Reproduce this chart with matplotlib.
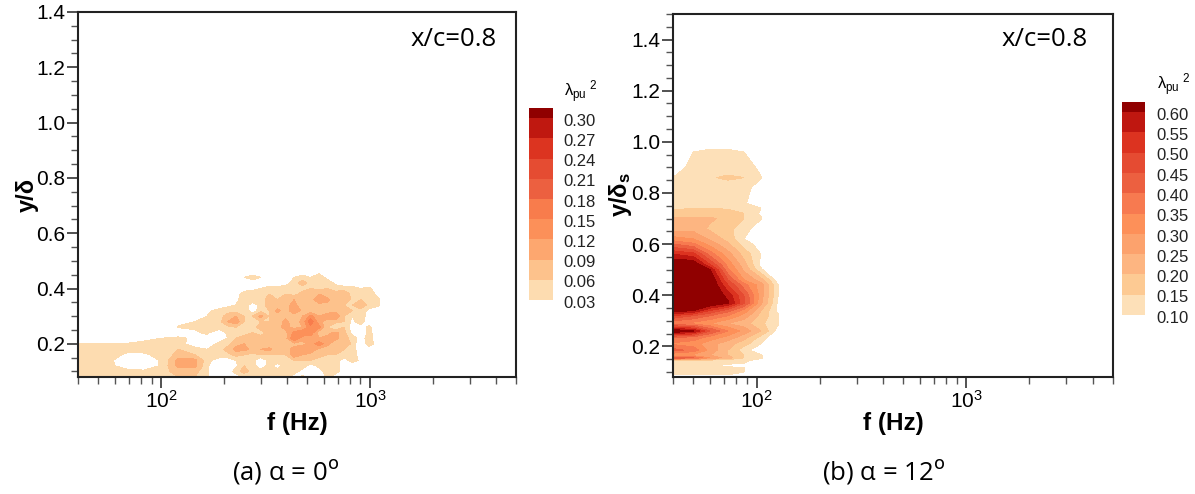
import numpy as np
import matplotlib
matplotlib.use("Agg")
import matplotlib.pyplot as plt
from matplotlib.ticker import MultipleLocator, LogLocator, NullFormatter

# --------------------------------------------------
# DATA (values x 100)
# --------------------------------------------------
y_a = [0.46, 0.44, 0.42, 0.40, 0.38, 0.36, 0.34, 0.32, 0.30, 0.28, 0.26, 0.24, 0.22, 0.20, 0.18, 0.16, 0.14, 0.12, 0.10, 0.08]

# low frequency part of panel (a)
freq_a_low = [40, 48, 58, 70, 83, 100, 121, 145, 166]
lam_a_low = [
    [0, 0, 0, 0, 0, 0, 0, 0, 0],
    [0, 0, 0, 0, 0, 0, 0, 0, 0],
    [0, 0, 0, 0, 0, 0, 0, 0, 0],
    [0, 0, 0, 0, 0, 0, 0, 0, 0],
    [0, 0, 0, 0, 0, 0, 0, 0, 0],
    [0, 0, 0, 0, 0, 0, 0, 0, 0],
    [0, 0, 0, 0, 0, 0, 0, 0, 0],
    [0, 0, 0, 0, 0, 0, 0, 0, 2.5],
    [0, 0, 0, 0, 0, 0, 0, 1, 3],
    [0, 0, 0, 0, 0, 0, 2.5, 3, 3.5],
    [0, 0, 0, 0, 0, 0, 3.2, 3.4, 3.5],
    [0, 0, 0, 0, 0, 0, 0, 2.5, 3.5],
    [0, 0, 0, 0, 2, 3, 4, 2, 2],
    [3.2, 3, 3, 3.4, 4, 4.5, 4, 1.5, 1],
    [4, 4, 4, 3.6, 4, 5, 6, 4, 3],
    [4, 4, 3.6, 2.5, 2.5, 4, 7, 6, 4],
    [4, 4, 3.2, 0, 0, 3.5, 10, 10, 4],
    [4, 4, 3.5, 1, 0, 3.6, 10, 10, 3.5],
    [4, 4, 4, 4, 4, 5, 7, 7, 3.5],
    [4, 4, 4, 5, 6, 6, 6, 6, 3.5],
]

# high frequency part of panel (a), zero past the end of a row
freq_a_high = [190, 208, 228, 250, 274, 300, 329, 360, 395, 433, 475, 520, 570, 625, 685, 751, 823, 903, 989, 1085, 1189]
lam_a_high = [
    [0, 0, 0, 0, 0, 0, 0, 0, 0, 0, 0, 0, 2],
    [0, 0, 0, 3, 5, 3, 0, 0, 0, 3, 5, 3, 5, 2],
    [0, 0, 0, 0, 0, 0, 0, 0, 1, 5, 7, 5, 5, 5, 2],
    [0, 0, 0, 1, 2, 3, 5, 5, 5, 6, 5, 6, 5, 6, 5, 5, 5, 3, 4],
    [0, 0, 1, 5, 5, 6, 6, 6, 6, 5, 7, 9, 9, 7, 7, 8, 5, 5, 5, 2],
    [0, 1, 2, 5, 5, 5, 7, 6, 7, 9, 7, 8, 11, 10, 6, 9, 5, 6, 5, 4],
    [1, 2, 3, 5, 1, 4, 8, 7, 8, 10, 7, 9, 8, 8, 7, 6, 6, 8, 5, 4],
    [4, 5, 5, 5, 1, 5, 6, 10, 7, 12, 8, 7, 8, 7, 8, 7, 6, 5, 2],
    [5, 7, 9, 6, 6, 10, 6, 7, 8, 7, 9, 13, 9, 11, 12, 6, 3, 5, 1],
    [5, 9, 11, 6, 5, 6, 6, 7, 10, 7, 10, 17, 10, 7, 7, 6, 2, 5],
    [5, 5, 6, 5, 5, 7, 7, 8, 10, 8, 9, 14, 13, 6, 2, 6, 1, 1, 4],
    [0, 4, 5, 5, 6, 5, 7, 6, 8, 13, 15, 14, 7, 8, 10, 7, 2, 0, 4, 1],
    [1, 3, 6, 7, 7, 7, 6, 8, 8, 15, 10, 10, 9, 10, 10, 7, 5, 1, 5],
    [4, 5, 8, 9, 8, 8, 6, 8, 8, 8, 8, 10, 14, 10, 6, 9, 5, 0, 5, 1],
    [5, 7, 10, 10, 8, 9, 10, 7, 8, 10, 12, 11, 8, 7, 9, 6, 5, 0, 1, 2],
    [5, 5, 7, 6, 5, 6, 6, 6, 6, 11, 9, 8, 7, 6, 6, 5, 5, 1],
    [1, 1, 3, 5, 4, 0, 4, 5, 5, 6, 6, 6, 5, 4, 5, 1, 5, 2],
    [0, 1, 2, 6, 5, 0, 5, 1, 5, 5, 5, 1, 4, 5, 5, 1],
    [0, 0, 5, 7, 5, 5, 5, 5, 6, 5, 1, 1, 1, 5, 5],
    [0, 0, 0, 4, 5, 5, 5, 5, 5, 1, 4, 0, 0, 4],
]

freq_b = [40, 50, 60, 73, 87, 105, 126, 146]
y_b = [1.00, 0.97, 0.96, 0.90, 0.86, 0.82, 0.76, 0.74, 0.72, 0.70, 0.66, 0.62, 0.60, 0.56, 0.52, 0.50, 0.46, 0.44,
       0.40, 0.37, 0.34, 0.32, 0.29, 0.26, 0.235, 0.21, 0.185, 0.165, 0.155, 0.145, 0.135, 0.125, 0.115, 0.10, 0.09, 0.08]
lam_b = [
    [0, 0, 0, 0, 0, 0, 0, 0],
    [0, 8, 10.2, 10.2, 6, 0, 0, 0],
    [0, 10, 12, 12, 10, 5, 0, 0],
    [7, 12, 12, 12, 12, 9, 0, 0],
    [10, 12, 14.5, 16, 15, 10.2, 0, 0],
    [11, 12, 12, 12, 12, 7, 0, 0],
    [12, 12, 12, 12, 11, 4, 0, 0],
    [14, 15, 15, 14.5, 13, 10, 0, 0],
    [17, 17, 17, 17, 15, 9, 0, 0],
    [21, 21, 21, 18, 15, 10.5, 0, 0],
    [23, 23, 19, 16, 13, 5, 0, 0],
    [32, 30, 24, 18, 10, 0, 0, 0],
    [40, 36, 28, 21, 13, 7, 0, 0],
    [55, 52, 38, 27, 18, 10, 0, 0],
    [66, 65, 50, 33, 22, 8, 0, 0],
    [66, 66, 60, 36, 24, 11, 0, 0],
    [66, 66, 66, 45, 30, 22, 7, 0],
    [66, 66, 66, 50, 37, 27, 11, 0],
    [66, 66, 66, 58, 45, 27, 10.5, 0],
    [66, 66, 66, 61, 46, 26, 9.5, 0],
    [64, 60, 50, 42, 33, 20, 9, 0],
    [50, 45, 40, 35, 28, 18, 11, 0],
    [35, 33, 30, 25, 22, 16, 11, 0],
    [66, 60, 45, 35, 28, 20, 8, 0],
    [40, 38, 33, 28, 22, 13, 4, 0],
    [34, 32, 27, 22, 17, 10, 0, 0],
    [42, 38, 28, 20, 12, 6, 0, 0],
    [30, 28, 25, 20, 15, 10.5, 0, 0],
    [45, 40, 30, 22, 15, 11, 0, 0],
    [15, 14, 13, 12, 11, 8, 0, 0],
    [13, 12, 11, 11, 10.5, 0, 0, 0],
    [12, 11, 11, 9, 7, 0, 0, 0],
    [12, 11, 11, 11, 10.6, 0, 0, 0],
    [11, 11, 11, 11, 10.2, 0, 0, 0],
    [10.5, 10.5, 10.5, 10.2, 8, 0, 0, 0],
    [0, 0, 0, 0, 0, 0, 0, 0],
]

levels_a = [0.03, 0.06, 0.09, 0.12, 0.15, 0.18, 0.21, 0.24, 0.27, 0.30]
levels_b = [0.10, 0.15, 0.20, 0.25, 0.30, 0.35, 0.40, 0.45, 0.50, 0.55, 0.60]
colors_a = ["#fddcb0", "#fdc28c", "#fda76f", "#fc9059", "#f87c4c", "#ec6040", "#e54c32", "#dc3420", "#bf1810", "#900000"]
colors_b = ["#fde0b8", "#fdca93", "#fdb581", "#fca26d", "#fd9059", "#f77a50", "#ec6040", "#e54b32", "#dc3320", "#bf1710", "#900000"]

W, H = 1195, 494
plt.rcParams["font.family"] = "Liberation Sans"
plt.rcParams["mathtext.fontset"] = "custom"
plt.rcParams["mathtext.rm"] = "Liberation Sans"
plt.rcParams["mathtext.it"] = "Liberation Sans"
plt.rcParams["mathtext.bf"] = "Liberation Sans:bold"


def px_axes(fig, left, top, right, bottom):
    return fig.add_axes([left / W, 1 - bottom / H, (right - left) / W, (bottom - top) / H])


# --------------------------------------------------
# PANEL
# --------------------------------------------------
def panel(fig, box, freq, y, lam, levels, colors, ymax, ylabel, label_x, caption, caption_x, note_x):
    ax = px_axes(fig, *box)
    edges = levels + [1.0]
    ax.contourf(freq, y, np.array(lam) / 100, levels=edges, colors=colors)
    ax.set_xscale("log")
    ax.set_xlim(40, 5000)
    ax.set_ylim(0.08, ymax)

    ax.xaxis.set_major_locator(LogLocator(base=10, numticks=6))
    ax.xaxis.set_minor_locator(LogLocator(base=10, subs=np.arange(2, 10), numticks=12))
    ax.xaxis.set_minor_formatter(NullFormatter())
    ax.yaxis.set_major_locator(MultipleLocator(0.2))
    ax.yaxis.set_minor_locator(MultipleLocator(0.05))
    ax.tick_params(which="major", length=8, width=1.2, color="#333333", labelsize=15, pad=1)
    ax.tick_params(which="minor", length=5, width=1.0, color="#555555")
    for s in ax.spines.values():
        s.set_linewidth(1.5)
        s.set_color("#222222")

    fig.text(label_x / W, 1 - 195 / H, ylabel, rotation=90, ha="center", va="center",
             fontsize=17, fontweight="bold")
    fig.text((box[0] + box[2]) / 2 / W, 1 - 423 / H, "f (Hz)", ha="center", va="center",
             fontsize=17.5, fontweight="bold")
    fig.text(caption_x / W, 1 - 471 / H, caption, ha="center", va="center", fontsize=18.5,
             family="Open Sans", math_fontfamily="dejavusans")
    fig.text(note_x / W, 1 - 40 / H, "x/c=0.8", ha="center", va="center", fontsize=18.5, family="Open Sans")
    return ax


# --------------------------------------------------
# COLOUR BAR
# --------------------------------------------------
def level_bar(fig, box, levels, colors, step, label_x, title_x, title_y):
    ax = px_axes(fig, *box)
    edges = levels + [levels[-1] + step / 2]
    for i, c in enumerate(colors):
        ax.axhspan(edges[i], edges[i + 1], color=c, lw=0)
    ax.set_ylim(edges[0], edges[-1])
    ax.axis("off")
    for v in levels:
        ax.annotate(f"{v:.2f}", xy=(0, v), xycoords=("axes fraction", "data"),
                    xytext=(label_x, -2.3), textcoords="offset points",
                    ha="left", va="center", fontsize=12, color="#222222", annotation_clip=False)
    fig.text(title_x / W, 1 - title_y / H, r"$\lambda_{pu}{}^{\ 2}$", ha="center", va="center", fontsize=12)


fig = plt.figure(figsize=(W / 100, H / 100), dpi=100)

# rows of the high part are padded with zeros, then joined to the low part
high = [r + [0] * (len(freq_a_high) - len(r)) for r in lam_a_high]
lam_a = np.hstack([np.array(lam_a_low), np.array(high)])
freq_a = freq_a_low + freq_a_high

panel(fig, (78, 12, 516, 377), freq_a, y_a, lam_a, levels_a, colors_a, 1.4,
      "y/δ", 27, r"(a) α = 0$^{\mathrm{o}}$", 286, 454)
panel(fig, (673, 14, 1113, 377), freq_b, y_b, lam_b, levels_b, colors_b, 1.5,
      r"y/δ$_{\mathbf{s}}$", 620, r"(b) α = 12$^{\mathrm{o}}$", 884, 1045)

level_bar(fig, (529, 108, 553, 300), levels_a, colors_a, 0.03, 25, 581, 92)
level_bar(fig, (1122, 102, 1145, 315), levels_b, colors_b, 0.05, 25, 1174, 85)

fig.savefig("out.png", dpi=100)
